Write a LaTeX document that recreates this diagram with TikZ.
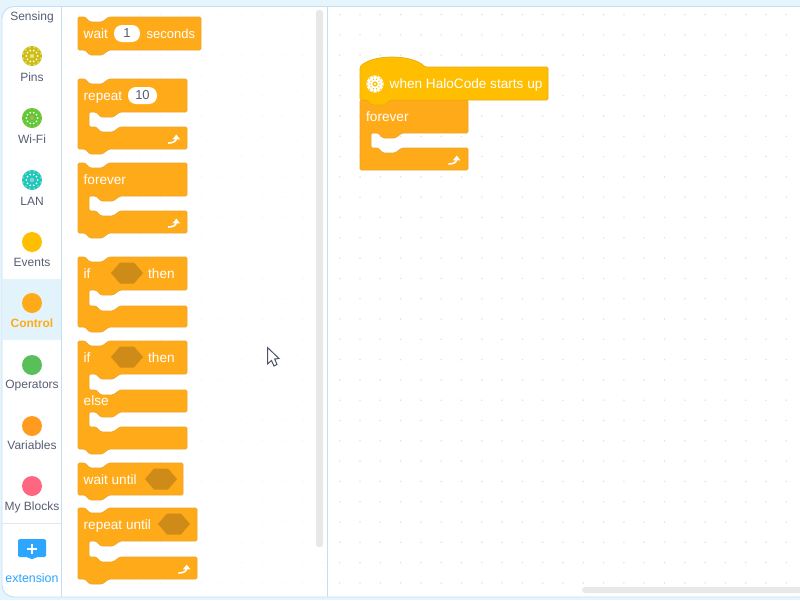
\documentclass[tikz,border=0pt]{standalone}
\usepackage{fontspec}
\setmainfont{Liberation Sans}
\definecolor{ctl}{HTML}{FFAB19}
\definecolor{ctlb}{HTML}{EBA52A}
\definecolor{hatc}{HTML}{FFBF00}
\definecolor{hatb}{HTML}{E6AC10}
\definecolor{hexc}{HTML}{CF8B17}
\definecolor{frame}{HTML}{C4DFF5}
\definecolor{strip}{HTML}{E6F4FC}
\definecolor{sel}{HTML}{E3F3FC}
\definecolor{lbl}{HTML}{575E75}
\definecolor{blu}{HTML}{2CA6FF}
\definecolor{sbar}{HTML}{E8E8E8}
\definecolor{dotc}{HTML}{E4E4E4}
\definecolor{dotp}{HTML}{F6F6F6}
\definecolor{sepc}{HTML}{E3E6EA}
\definecolor{pinsc}{HTML}{CBBD12}
\definecolor{pinsd}{HTML}{E9E07A}
\definecolor{wific}{HTML}{5CCB2F}
\definecolor{wifid}{HTML}{B5A96A}
\definecolor{lanc}{HTML}{1CC9B5}
\definecolor{land}{HTML}{8FC8EE}
\definecolor{opc}{HTML}{59C059}
\definecolor{varc}{HTML}{FF9B1E}
\definecolor{myc}{HTML}{FF6680}
\tikzset{
  block/.style={fill=ctl,draw=ctlb,line width=.7pt,rounded corners=1.3pt,line join=round},
  hatblock/.style={fill=hatc,draw=hatb,line width=.7pt,rounded corners=1.3pt,line join=round},
  blktext/.style={text=white,anchor=base west,yshift=-4.7pt,inner sep=0pt,font=\fontsize{13.6}{15}\selectfont},
  side/.style={text=lbl,anchor=base,yshift=-4.3pt,inner sep=0pt,font=\fontsize{12}{14}\selectfont},
  pill/.style={fill=white,rounded corners=8pt,inner sep=0pt,text=lbl,font=\fontsize{13}{15}\selectfont},
  loopstem/.style={draw=white,line width=1.6pt},
}
% top edge with notch, left to right
\newcommand\notchtop[3]{(#1,#2) -- (#1+7,#2) -- (#1+12,#2+5) -- (#1+24,#2+5) -- (#1+31,#2) -- (#3,#2)}
% bottom edge with tab, right to left
\newcommand\tabbot[3]{-- (#3,#2) -- (#1+31,#2) -- (#1+24,#2+5) -- (#1+12,#2+5) -- (#1+7,#2) -- (#1,#2)}
% mouth: x, arm bottom, mouth bottom, right
\newcommand\mouth[4]{-- (#4,#2) -- (#1+42,#2) -- (#1+35,#2+5) -- (#1+23,#2+5) -- (#1+18,#2) -- (#1+11,#2) -- (#1+11,#3) -- (#1+18,#3) -- (#1+23,#3+5) -- (#1+35,#3+5) -- (#1+42,#3) -- (#4,#3)}
% simple stack block: x,y,r,bottom
\newcommand\stackblk[4]{\draw[block] \notchtop{#1}{#2}{#3} \tabbot{#1}{#4}{#3} -- cycle;}
% C block: x,y,r,armbot,mouthbot,bottom
\newcommand\cblk[6]{\draw[block] \notchtop{#1}{#2}{#3} \mouth{#1}{#4}{#5}{#3} \tabbot{#1}{#6}{#3} -- cycle;}
\newcommand\hexag[2]{\fill[hexc] (#1-16,#2) -- (#1-7,#2-10.5) -- (#1+7,#2-10.5) -- (#1+16,#2) -- (#1+7,#2+10.5) -- (#1-7,#2+10.5) -- cycle;}
\newcommand\looparrow[2]{\draw[loopstem] (#1-5,#2+5) .. controls (#1-1,#2+5) and (#1+3.3,#2+4) .. (#1+3.3,#2);
  \fill[white] (#1-.4,#2+1.3) -- (#1+7,#2+1.3) -- (#1+3.3,#2-3.4) -- cycle;}
% board icon: cx,cy,colour,centre colour
\newcommand\board[4]{%
  \fill[#3] (#1,#2) circle (10);
  \foreach \a in {0,30,...,330} \fill[#4] (#1,#2) ++(\a+15:8.8) circle (1);
  \foreach \a in {0,36,...,324} \fill[white] (#1,#2) ++(\a:5.6) circle (1);
  \fill[#4] (#1,#2) circle (2.2);
}
\begin{document}
\begin{tikzpicture}[x=1pt,y=-1pt]
\useasboundingbox (0,0) rectangle (800,600);
\fill[strip] (0,0) rectangle (800,600);
\fill[white,draw=frame,line width=.9pt,rounded corners=12pt] (820,6.5) -- (2,6.5) -- (2,597) -- (820,597);
% control selection
\fill[sel] (2.4,279) rectangle (61,340);
% palette dots
\foreach \i in {0,...,12} \foreach \j in {0,...,28}
  \fill[dotp] (79.5+\i*20.3,14.5+\j*20.3) circle (.8);
% canvas dots
\foreach \i in {0,...,23} \foreach \j in {0,...,28}
  \fill[dotc] (339.7+\i*20.3,14.5+\j*20.3) circle (.9);
% dividers
\draw[frame,line width=.9pt] (61.5,6.5) -- (61.5,597);
\draw[frame,line width=.9pt] (327.5,6.5) -- (327.5,597);
\draw[sepc,line width=.8pt] (2.4,523.5) -- (61,523.5);
% scrollbars
\fill[sbar,rounded corners=2.5pt] (316,10) rectangle (323,547);
\fill[sbar,rounded corners=3pt] (582,587) rectangle (802,593);
% category icons and labels
\node[side] (sensing) at (32,16) {Sensing};
\board{32}{56}{pinsc}{pinsd}
\node[side] (pins) at (32,77.5) {Pins};
\board{32}{118}{wific}{wifid}
\node[side] (wifi) at (32,139.5) {Wi-Fi};
\board{32}{180}{lanc}{land}
\node[side] (lan) at (32,201.5) {LAN};
\fill[hatc] (32,242) circle (10);
\node[side] (events) at (32,262.5) {Events};
\fill[ctl] (32,303) circle (10);
\node[side,text=ctl,font=\fontsize{12}{14}\selectfont\bfseries] (control) at (32,323.5) {Control};
\fill[opc] (32,365) circle (10);
\node[side] (operators) at (32,384.5) {Operators};
\fill[varc] (32,426) circle (10);
\node[side] (variables) at (32,445.5) {Variables};
\fill[myc] (32,486) circle (10);
\node[side] (myblocks) at (32,506.5) {My Blocks};
\fill[blu,rounded corners=1.5pt] (18,539) -- (46,539) -- (46,557) -- (36,557) -- (34,559) -- (30,559) -- (28,557) -- (18,557) -- cycle;
\fill[white] (30.8,544) rectangle (33.2,554);
\fill[white] (27,547.8) rectangle (37,550.2);
\node[side,text=blu,font=\fontsize{12.4}{14}\selectfont] (extension) at (32,578) {extension};
% palette blocks
\stackblk{78}{17}{201}{50}
\node[blktext] (t1) at (83.5,33.5) {wait};
\node[pill,minimum width=26pt,minimum height=17pt] (p1) at (127,33.5) {1};
\node[blktext,font=\fontsize{13}{15}\selectfont] (t2) at (146.5,33.5) {seconds};
\cblk{78}{79}{187}{112}{127}{149}
\node[blktext] (t3) at (83.5,95.5) {repeat};
\node[pill,minimum width=29pt,minimum height=17pt] (p2) at (142.5,95.5) {10};
\looparrow{173}{138}
\cblk{78}{163}{187}{196}{211}{233}
\node[blktext] (t4) at (83.5,179.5) {forever};
\looparrow{173}{222}
\cblk{78}{257}{187}{290}{306}{327}
\node[blktext] (t5) at (83.5,273.5) {if};
\hexag{127}{273}
\node[blktext] (t6) at (148,273.5) {then};
\draw[block] \notchtop{78}{341}{187} \mouth{78}{374}{390}{187} \mouth{78}{412}{427}{187} \tabbot{78}{449}{187} -- cycle;
\node[blktext] (t7) at (83.5,357.5) {if};
\hexag{127}{357}
\node[blktext] (t8) at (148,357.5) {then};
\node[blktext] (t9) at (83.5,400.5) {else};
\stackblk{78}{463}{183}{495}
\node[blktext] (t10) at (83.5,479.5) {wait until};
\hexag{161}{479}
\cblk{78}{508}{197}{541}{557}{579}
\node[blktext] (t11) at (83.5,524.5) {repeat until};
\hexag{174}{524}
\looparrow{183.4}{568}
% script
\draw[block] (360,100) -- (468,100) \mouth{360}{133}{148}{468} -- (468,170) -- (360,170) -- cycle;
\node[blktext] (s2) at (366,116.5) {forever};
\draw[hatblock] (360,67) .. controls (372,54) and (412,54) .. (425,67) -- (548,67) \tabbot{360}{100}{548} -- cycle;
\fill[white] (375,84) circle (8.6);
\foreach \a in {0,30,...,330} \fill[hatc] (375,84) ++(\a+15:7.6) circle (.7);
\foreach \a in {0,36,...,324} \fill[hatc] (375,84) ++(\a:4.9) circle (.7);
\fill[hatc] (375,84) circle (2.6);
\fill[white] (375,84) circle (1.1);
\node[blktext] (s1) at (389.5,83.5) {when HaloCode starts up};
\looparrow{453.4}{159}
% cursor
\draw[fill=white,draw=lbl!90!black,line width=1pt,line join=miter] (267.5,347.5) -- (267.5,364) -- (271.5,360.5) -- (274,366) -- (277,364.5) -- (274.7,359) -- (279,358.5) -- cycle;
\end{tikzpicture}
\end{document}
